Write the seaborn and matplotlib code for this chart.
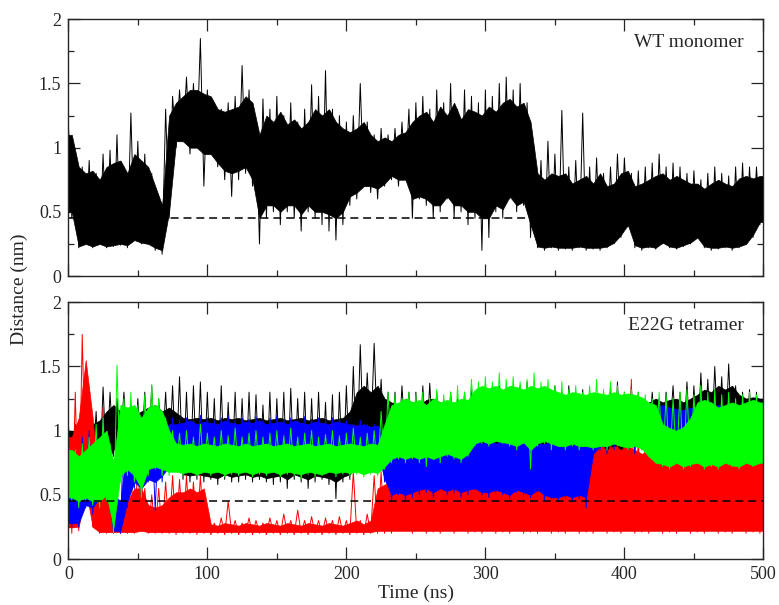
import matplotlib
matplotlib.use('Agg')
import matplotlib.pyplot as plt
from matplotlib.ticker import MultipleLocator, FormatStrFormatter
import seaborn as sns
import numpy as np
import pandas as pd

# Values per 5 ns bin (nm).
# *_core_*: edges of the dense band, *_peak_*: furthest excursions in the bin.

# WT monomer
wt_core_hi = [1.10, 0.85, 0.80, 0.82, 0.75, 0.85, 0.88, 0.90, 0.80, 0.95,
              0.90, 0.85, 0.70, 0.55, 1.25, 1.35, 1.40, 1.45, 1.45, 1.42,
              1.40, 1.30, 1.28, 1.30, 1.32, 1.40, 1.35, 1.10, 1.25, 1.20,
              1.28, 1.18, 1.22, 1.15, 1.20, 1.30, 1.25, 1.30, 1.20, 1.15,
              1.12, 1.15, 1.20, 1.10, 1.05, 1.08, 1.05, 1.10, 1.12, 1.20,
              1.25, 1.28, 1.20, 1.32, 1.25, 1.35, 1.22, 1.30, 1.28, 1.25,
              1.32, 1.28, 1.35, 1.38, 1.32, 1.35, 1.20, 0.80, 0.75, 0.80,
              0.78, 0.80, 0.72, 0.75, 0.78, 0.72, 0.80, 0.70, 0.72, 0.80,
              0.82, 0.70, 0.72, 0.75, 0.78, 0.80, 0.75, 0.78, 0.75, 0.72,
              0.72, 0.68, 0.72, 0.75, 0.72, 0.70, 0.76, 0.78, 0.76, 0.78]
wt_core_lo = [0.50, 0.23, 0.25, 0.23, 0.25, 0.23, 0.24, 0.25, 0.24, 0.28,
              0.26, 0.25, 0.22, 0.20, 0.50, 1.05, 1.05, 1.00, 1.00, 0.95,
              0.95, 0.88, 0.82, 0.80, 0.82, 0.85, 0.75, 0.45, 0.55, 0.55,
              0.50, 0.55, 0.55, 0.48, 0.55, 0.50, 0.50, 0.48, 0.45, 0.50,
              0.62, 0.65, 0.70, 0.70, 0.68, 0.72, 0.78, 0.75, 0.75, 0.60,
              0.62, 0.60, 0.55, 0.55, 0.62, 0.55, 0.55, 0.50, 0.50, 0.45,
              0.45, 0.55, 0.52, 0.62, 0.55, 0.58, 0.40, 0.23, 0.22, 0.23,
              0.22, 0.22, 0.22, 0.23, 0.22, 0.22, 0.22, 0.23, 0.26, 0.32,
              0.40, 0.24, 0.22, 0.23, 0.22, 0.26, 0.23, 0.22, 0.24, 0.26,
              0.30, 0.23, 0.22, 0.22, 0.23, 0.22, 0.23, 0.25, 0.32, 0.42]
wt_peak_hi = [1.20, 0.95, 0.85, 0.90, 0.80, 0.95, 0.98, 1.10, 0.85, 1.27,
              1.05, 0.95, 0.80, 0.60, 1.30, 1.40, 1.45, 1.55, 1.50, 1.85,
              1.45, 1.35, 1.30, 1.35, 1.40, 1.64, 1.45, 1.20, 1.38, 1.30,
              1.40, 1.25, 1.35, 1.20, 1.30, 1.49, 1.40, 1.60, 1.30, 1.25,
              1.20, 1.25, 1.50, 1.20, 1.10, 1.15, 1.10, 1.15, 1.20, 1.30,
              1.35, 1.40, 1.30, 1.45, 1.35, 1.50, 1.30, 1.45, 1.40, 1.35,
              1.45, 1.40, 1.50, 1.55, 1.45, 1.50, 1.35, 1.00, 0.90, 1.05,
              0.95, 1.29, 0.85, 0.90, 1.27, 0.85, 0.92, 0.80, 0.85, 0.95,
              0.92, 0.80, 0.82, 0.85, 0.88, 0.95, 0.85, 0.88, 0.85, 0.80,
              0.82, 0.75, 0.80, 0.85, 0.80, 0.78, 0.85, 0.88, 0.85, 0.85]
wt_peak_lo = [0.45, 0.22, 0.25, 0.22, 0.25, 0.22, 0.23, 0.24, 0.22, 0.30,
              0.25, 0.25, 0.20, 0.17, 0.45, 1.00, 1.05, 0.95, 1.00, 0.70,
              0.95, 0.85, 0.75, 0.62, 0.75, 0.80, 0.70, 0.25, 0.45, 0.50,
              0.40, 0.50, 0.45, 0.35, 0.50, 0.45, 0.40, 0.35, 0.28, 0.40,
              0.55, 0.60, 0.70, 0.65, 0.60, 0.70, 0.75, 0.70, 0.75, 0.45,
              0.60, 0.55, 0.45, 0.50, 0.60, 0.45, 0.50, 0.40, 0.45, 0.20,
              0.30, 0.50, 0.45, 0.60, 0.50, 0.55, 0.30, 0.22, 0.20, 0.22,
              0.20, 0.21, 0.20, 0.22, 0.20, 0.21, 0.20, 0.22, 0.25, 0.30,
              0.38, 0.22, 0.20, 0.22, 0.21, 0.25, 0.22, 0.21, 0.23, 0.25,
              0.30, 0.22, 0.20, 0.21, 0.22, 0.20, 0.22, 0.25, 0.30, 0.40]

# E22G tetramer, chain 1 (black)
black_core_hi = [1.00, 0.98, 0.95, 1.05, 1.08, 1.15, 1.20, 1.15, 1.18, 1.12,
                 1.15, 1.18, 1.20, 1.15, 1.18, 1.14, 1.10, 1.09, 1.10, 1.09,
                 1.10, 1.08, 1.10, 1.09, 1.10, 1.08, 1.09, 1.10, 1.08, 1.09,
                 1.10, 1.08, 1.09, 1.10, 1.08, 1.09, 1.10, 1.08, 1.09, 1.10,
                 1.15, 1.30, 1.35, 1.30, 1.35, 1.25, 1.22, 1.20, 1.25, 1.22,
                 1.20, 1.24, 1.25, 1.22, 1.20, 1.22, 1.20, 1.23, 1.25, 1.22,
                 1.24, 1.20, 1.25, 1.22, 1.20, 1.24, 1.25, 1.22, 1.23, 1.20,
                 1.24, 1.22, 1.25, 1.22, 1.20, 1.18, 1.15, 1.15, 1.20, 1.25,
                 1.22, 1.24, 1.20, 1.22, 1.25, 1.22, 1.24, 1.25, 1.22, 1.25,
                 1.28, 1.32, 1.30, 1.35, 1.32, 1.35, 1.28, 1.25, 1.26, 1.25]
black_core_lo = [0.75, 0.75, 0.70, 0.72, 0.65, 0.75, 0.85, 0.92, 0.90, 0.85,
                 0.85, 0.80, 0.75, 0.82, 0.80, 0.75, 0.66, 0.65, 0.66, 0.65,
                 0.64, 0.63, 0.66, 0.64, 0.65, 0.66, 0.64, 0.65, 0.63, 0.64,
                 0.65, 0.62, 0.66, 0.64, 0.62, 0.65, 0.64, 0.63, 0.60, 0.64,
                 0.66, 0.72, 0.88, 0.92, 0.92, 0.88, 0.86, 0.85, 0.87, 0.85,
                 0.84, 0.86, 0.85, 0.86, 0.84, 0.85, 0.86, 0.84, 0.86, 0.85,
                 0.84, 0.86, 0.85, 0.86, 0.84, 0.85, 0.86, 0.84, 0.82, 0.84,
                 0.85, 0.84, 0.85, 0.82, 0.80, 0.75, 0.65, 0.55, 0.75, 0.85,
                 0.88, 0.90, 0.90, 0.92, 0.95, 0.95, 0.94, 0.92, 0.92, 0.90,
                 0.90, 0.92, 0.90, 0.92, 0.90, 0.92, 0.90, 0.92, 0.90, 0.92]
black_peak_hi = [1.05, 1.05, 1.00, 1.10, 1.15, 1.34, 1.30, 1.25, 1.30, 1.20,
                 1.25, 1.30, 1.35, 1.25, 1.30, 1.35, 1.42, 1.30, 1.35, 1.38,
                 1.30, 1.25, 1.35, 1.22, 1.30, 1.25, 1.30, 1.28, 1.20, 1.30,
                 1.25, 1.30, 1.33, 1.25, 1.30, 1.25, 1.30, 1.22, 1.28, 1.30,
                 1.35, 1.50, 1.67, 1.45, 1.68, 1.40, 1.30, 1.30, 1.35, 1.30,
                 1.30, 1.35, 1.37, 1.30, 1.25, 1.30, 1.25, 1.30, 1.35, 1.30,
                 1.35, 1.30, 1.35, 1.30, 1.28, 1.35, 1.38, 1.30, 1.32, 1.30,
                 1.35, 1.30, 1.35, 1.30, 1.32, 1.30, 1.25, 1.28, 1.35, 1.38,
                 1.30, 1.35, 1.30, 1.25, 1.30, 1.25, 1.30, 1.35, 1.30, 1.38,
                 1.35, 1.45, 1.40, 1.50, 1.42, 1.52, 1.35, 1.30, 1.32, 1.30]
black_peak_lo = [0.70, 0.75, 0.65, 0.70, 0.60, 0.70, 0.80, 0.90, 0.85, 0.80,
                 0.80, 0.75, 0.70, 0.80, 0.75, 0.70, 0.62, 0.60, 0.62, 0.60,
                 0.62, 0.58, 0.62, 0.60, 0.60, 0.62, 0.60, 0.62, 0.60, 0.58,
                 0.60, 0.55, 0.62, 0.60, 0.55, 0.60, 0.62, 0.58, 0.47, 0.60,
                 0.62, 0.70, 0.85, 0.90, 0.90, 0.85, 0.90, 0.85, 0.90, 0.85,
                 0.80, 0.85, 0.85, 0.85, 0.80, 0.85, 0.85, 0.80, 0.85, 0.80,
                 0.80, 0.85, 0.80, 0.85, 0.80, 0.85, 0.80, 0.85, 0.75, 0.80,
                 0.85, 0.80, 0.85, 0.80, 0.75, 0.70, 0.60, 0.52, 0.70, 0.80,
                 0.80, 0.85, 0.85, 0.90, 0.95, 0.95, 0.95, 0.90, 0.90, 0.85,
                 0.85, 0.90, 0.85, 0.90, 0.85, 0.90, 0.85, 0.90, 0.85, 0.90]

# chain 2 (red)
red_core_hi = [0.95, 1.10, 1.55, 1.10, 0.45, 0.55, 0.40, 0.38, 0.45, 0.55,
               0.55, 0.42, 0.40, 0.42, 0.48, 0.52, 0.52, 0.55, 0.52, 0.55,
               0.27, 0.26, 0.28, 0.27, 0.26, 0.28, 0.27, 0.26, 0.28, 0.27,
               0.26, 0.28, 0.27, 0.26, 0.28, 0.27, 0.26, 0.28, 0.27, 0.26,
               0.28, 0.30, 0.27, 0.30, 0.55, 0.58, 0.60, 0.65, 0.85, 0.88,
               0.80, 0.82, 0.80, 0.78, 0.82, 0.80, 0.78, 0.82, 0.85, 0.80,
               0.82, 0.78, 0.82, 0.80, 0.78, 0.82, 0.80, 0.78, 0.82, 0.80,
               0.78, 0.82, 0.80, 0.85, 0.88, 0.85, 0.88, 0.85, 0.88, 0.85,
               0.88, 0.85, 0.82, 0.84, 0.80, 0.76, 0.78, 0.76, 0.80, 0.76,
               0.78, 0.76, 0.80, 0.76, 0.78, 0.76, 0.80, 0.78, 0.76, 0.78]
red_core_lo = [0.25, 0.25, 0.55, 0.25, 0.21, 0.21, 0.21, 0.21, 0.21, 0.21,
               0.22, 0.21, 0.21, 0.21, 0.21, 0.21, 0.21, 0.21, 0.21, 0.21,
               0.21, 0.21, 0.21, 0.21, 0.21, 0.21, 0.21, 0.21, 0.21, 0.21,
               0.21, 0.21, 0.21, 0.21, 0.21, 0.21, 0.21, 0.21, 0.21, 0.21,
               0.21, 0.21, 0.21, 0.21, 0.22, 0.22, 0.22, 0.22, 0.22, 0.22,
               0.22, 0.22, 0.22, 0.22, 0.22, 0.22, 0.22, 0.22, 0.22, 0.22,
               0.22, 0.22, 0.22, 0.22, 0.22, 0.22, 0.22, 0.22, 0.22, 0.22,
               0.22, 0.22, 0.22, 0.22, 0.22, 0.22, 0.22, 0.22, 0.22, 0.22,
               0.22, 0.22, 0.22, 0.22, 0.22, 0.22, 0.22, 0.22, 0.22, 0.22,
               0.22, 0.22, 0.22, 0.22, 0.22, 0.22, 0.22, 0.22, 0.22, 0.22]
red_peak_hi = [1.05, 1.30, 1.75, 1.30, 0.55, 1.18, 0.50, 0.45, 0.60, 0.70,
               0.75, 0.55, 0.50, 0.55, 0.60, 0.65, 0.62, 0.65, 0.60, 0.65,
               0.30, 0.28, 0.32, 0.45, 0.30, 0.28, 0.32, 0.30, 0.28, 0.32,
               0.30, 0.35, 0.30, 0.38, 0.30, 0.33, 0.30, 0.32, 0.30, 0.33,
               0.30, 0.68, 0.30, 0.35, 0.65, 0.68, 0.70, 0.90, 1.20, 1.25,
               1.00, 0.95, 1.00, 0.90, 0.95, 1.00, 0.95, 1.05, 1.10, 1.00,
               1.05, 0.95, 1.00, 0.95, 1.05, 0.95, 1.00, 0.95, 0.90, 0.95,
               0.90, 0.95, 0.90, 1.00, 1.05, 0.95, 1.00, 0.95, 1.00, 0.95,
               1.00, 1.40, 0.95, 1.00, 0.90, 0.85, 0.88, 0.85, 0.90, 0.85,
               0.88, 0.85, 0.90, 0.85, 0.88, 0.85, 0.90, 0.88, 0.85, 0.90]
red_peak_lo = [0.20, 0.22, 0.60, 0.25, 0.20, 0.20, 0.20, 0.20, 0.20, 0.20,
               0.22, 0.20, 0.20, 0.20, 0.20, 0.19, 0.20, 0.20, 0.19, 0.20,
               0.19, 0.20, 0.19, 0.20, 0.19, 0.20, 0.19, 0.20, 0.19, 0.20,
               0.19, 0.20, 0.19, 0.20, 0.19, 0.20, 0.19, 0.20, 0.19, 0.20,
               0.19, 0.20, 0.19, 0.20, 0.20, 0.20, 0.20, 0.22, 0.22, 0.20,
               0.22, 0.20, 0.21, 0.20, 0.22, 0.20, 0.22, 0.20, 0.21, 0.20,
               0.22, 0.20, 0.21, 0.20, 0.22, 0.20, 0.21, 0.20, 0.22, 0.20,
               0.21, 0.20, 0.22, 0.20, 0.21, 0.20, 0.22, 0.20, 0.21, 0.20,
               0.22, 0.20, 0.21, 0.20, 0.22, 0.20, 0.21, 0.20, 0.22, 0.20,
               0.21, 0.20, 0.22, 0.20, 0.21, 0.20, 0.22, 0.20, 0.21, 0.20]

# chain 3 (blue)
blue_core_hi = [0.50, 0.55, 0.85, 0.90, 0.90, 1.00, 0.50, 0.45, 0.95, 1.05,
                1.00, 0.95, 1.00, 1.00, 1.05, 1.05, 1.06, 1.08, 1.05, 1.07,
                1.06, 1.05, 1.08, 1.06, 1.05, 1.07, 1.06, 1.08, 1.05, 1.06,
                1.07, 1.05, 1.08, 1.06, 1.05, 1.07, 1.06, 1.05, 1.07, 1.06,
                1.05, 1.04, 1.05, 1.03, 1.04, 0.98, 0.92, 0.93, 0.90, 0.92,
                0.90, 0.88, 0.92, 0.90, 0.88, 0.90, 0.92, 0.90, 0.93, 0.90,
                0.92, 0.90, 0.91, 0.93, 0.90, 0.92, 0.90, 0.89, 0.90, 0.90,
                0.90, 0.89, 0.90, 0.90, 0.92, 1.05, 1.15, 1.18, 1.16, 1.18,
                1.15, 1.18, 1.16, 1.18, 1.17, 1.20, 1.18, 1.17, 1.16, 1.18,
                1.17, 1.20, 1.18, 1.20, 1.17, 1.18, 1.16, 1.18, 1.17, 1.18]
blue_core_lo = [0.28, 0.28, 0.42, 0.40, 0.48, 0.55, 0.22, 0.22, 0.45, 0.60,
                0.55, 0.62, 0.60, 0.65, 0.72, 0.82, 0.85, 0.84, 0.86, 0.84,
                0.86, 0.85, 0.86, 0.84, 0.86, 0.85, 0.87, 0.85, 0.86, 0.84,
                0.86, 0.85, 0.86, 0.84, 0.86, 0.85, 0.84, 0.86, 0.84, 0.85,
                0.84, 0.85, 0.84, 0.82, 0.84, 0.62, 0.50, 0.52, 0.50, 0.52,
                0.54, 0.55, 0.52, 0.55, 0.53, 0.55, 0.52, 0.54, 0.55, 0.52,
                0.52, 0.54, 0.52, 0.50, 0.54, 0.52, 0.50, 0.54, 0.50, 0.48,
                0.48, 0.50, 0.48, 0.50, 0.48, 0.82, 0.88, 0.88, 0.90, 0.92,
                0.90, 0.88, 0.92, 0.90, 0.92, 0.95, 0.98, 0.96, 0.95, 0.92,
                0.90, 0.92, 0.90, 0.92, 0.90, 0.92, 0.90, 0.92, 0.92, 0.90]
blue_peak_hi = [0.55, 0.60, 0.95, 1.00, 0.95, 1.10, 0.55, 0.50, 1.10, 1.20,
                1.05, 1.00, 1.05, 1.05, 1.10, 1.10, 1.08, 1.10, 1.08, 1.12,
                1.10, 1.08, 1.10, 1.12, 1.08, 1.10, 1.09, 1.11, 1.08, 1.10,
                1.12, 1.09, 1.10, 1.08, 1.11, 1.09, 1.10, 1.08, 1.10, 1.09,
                1.08, 1.05, 1.08, 1.05, 1.05, 1.00, 0.95, 0.98, 0.90, 0.95,
                0.92, 0.88, 0.95, 0.90, 0.85, 0.92, 0.95, 0.90, 0.98, 0.92,
                0.95, 0.90, 0.93, 0.96, 0.90, 0.95, 0.92, 0.90, 0.93, 0.95,
                0.92, 0.90, 0.93, 0.95, 0.95, 1.10, 1.15, 1.20, 1.18, 1.22,
                1.15, 1.20, 1.18, 1.22, 1.20, 1.25, 1.22, 1.20, 1.18, 1.22,
                1.20, 1.25, 1.22, 1.25, 1.20, 1.22, 1.18, 1.22, 1.20, 1.22]
blue_peak_lo = [0.25, 0.25, 0.40, 0.35, 0.45, 0.50, 0.20, 0.20, 0.40, 0.55,
                0.50, 0.60, 0.38, 0.60, 0.70, 0.80, 0.85, 0.82, 0.85, 0.82,
                0.85, 0.84, 0.86, 0.83, 0.85, 0.84, 0.86, 0.83, 0.85, 0.84,
                0.86, 0.83, 0.85, 0.84, 0.86, 0.83, 0.82, 0.85, 0.80, 0.84,
                0.80, 0.82, 0.80, 0.78, 0.80, 0.60, 0.45, 0.50, 0.45, 0.48,
                0.50, 0.52, 0.48, 0.55, 0.50, 0.52, 0.48, 0.50, 0.55, 0.50,
                0.48, 0.52, 0.50, 0.47, 0.52, 0.50, 0.48, 0.52, 0.45, 0.47,
                0.45, 0.48, 0.45, 0.47, 0.40, 0.80, 0.85, 0.82, 0.85, 0.88,
                0.85, 0.82, 0.88, 0.85, 0.90, 0.95, 1.00, 0.98, 0.95, 0.90,
                0.85, 0.88, 0.85, 0.90, 0.85, 0.88, 0.85, 0.90, 0.88, 0.85]

# chain 4 (green)
green_core_hi = [0.85, 0.80, 0.85, 0.90, 0.95, 1.00, 0.75, 1.20, 1.18, 1.20,
                 1.10, 1.18, 1.20, 1.15, 1.00, 0.90, 0.89, 0.90, 0.88, 0.90,
                 0.89, 0.88, 0.90, 0.89, 0.88, 0.90, 0.88, 0.89, 0.90, 0.88,
                 0.89, 0.90, 0.88, 0.89, 0.90, 0.88, 0.89, 0.90, 0.88, 0.89,
                 0.90, 0.89, 0.88, 0.90, 0.89, 1.05, 1.20, 1.22, 1.25, 1.22,
                 1.24, 1.20, 1.25, 1.22, 1.24, 1.22, 1.25, 1.24, 1.32, 1.35,
                 1.33, 1.35, 1.32, 1.35, 1.34, 1.32, 1.35, 1.33, 1.35, 1.32,
                 1.30, 1.28, 1.30, 1.29, 1.28, 1.30, 1.29, 1.28, 1.30, 1.28,
                 1.29, 1.28, 1.26, 1.22, 1.20, 1.05, 1.02, 1.00, 1.03, 1.10,
                 1.22, 1.24, 1.22, 1.18, 1.20, 1.22, 1.20, 1.22, 1.24, 1.22]
green_core_lo = [0.48, 0.45, 0.48, 0.45, 0.45, 0.50, 0.25, 0.65, 0.70, 0.65,
                 0.55, 0.70, 0.72, 0.70, 0.68, 0.68, 0.67, 0.68, 0.66, 0.68,
                 0.67, 0.68, 0.66, 0.68, 0.67, 0.68, 0.66, 0.68, 0.67, 0.68,
                 0.66, 0.68, 0.67, 0.66, 0.68, 0.67, 0.66, 0.68, 0.67, 0.68,
                 0.67, 0.68, 0.66, 0.68, 0.67, 0.72, 0.78, 0.80, 0.78, 0.80,
                 0.78, 0.80, 0.78, 0.80, 0.82, 0.80, 0.78, 0.82, 0.90, 0.92,
                 0.90, 0.92, 0.91, 0.90, 0.88, 0.91, 0.85, 0.90, 0.92, 0.90,
                 0.88, 0.88, 0.90, 0.88, 0.88, 0.87, 0.88, 0.88, 0.90, 0.88,
                 0.87, 0.88, 0.86, 0.80, 0.75, 0.74, 0.72, 0.75, 0.72, 0.74,
                 0.75, 0.72, 0.74, 0.72, 0.75, 0.73, 0.72, 0.75, 0.73, 0.75]
green_peak_hi = [0.90, 0.85, 0.90, 0.95, 1.05, 1.10, 0.90, 1.51, 1.25, 1.30,
                 1.20, 1.28, 1.36, 1.25, 1.10, 1.00, 0.98, 1.00, 0.95, 1.05,
                 0.98, 0.95, 1.00, 0.96, 1.02, 0.95, 0.98, 1.00, 0.95, 0.98,
                 1.00, 0.96, 1.02, 0.95, 0.98, 1.00, 0.95, 0.97, 1.00, 0.96,
                 0.98, 1.02, 0.95, 0.98, 1.00, 1.15, 1.30, 1.28, 1.25, 1.30,
                 1.28, 1.30, 1.25, 1.32, 1.28, 1.30, 1.35, 1.30, 1.40, 1.38,
                 1.42, 1.38, 1.45, 1.40, 1.42, 1.38, 1.40, 1.45, 1.38, 1.40,
                 1.35, 1.38, 1.32, 1.35, 1.30, 1.35, 1.40, 1.32, 1.38, 1.35,
                 1.30, 1.32, 1.30, 1.28, 1.25, 1.30, 1.28, 1.25, 1.30, 1.32,
                 1.28, 1.35, 1.30, 1.32, 1.28, 1.30, 1.25, 1.28, 1.30, 1.28]
green_peak_lo = [0.45, 0.40, 0.45, 0.42, 0.40, 0.45, 0.20, 0.60, 0.65, 0.60,
                 0.48, 0.65, 0.70, 0.65, 0.65, 0.68, 0.65, 0.68, 0.65, 0.70,
                 0.65, 0.68, 0.64, 0.66, 0.65, 0.68, 0.64, 0.66, 0.65, 0.68,
                 0.64, 0.66, 0.65, 0.62, 0.66, 0.64, 0.65, 0.68, 0.64, 0.66,
                 0.65, 0.66, 0.64, 0.66, 0.65, 0.70, 0.75, 0.78, 0.75, 0.78,
                 0.75, 0.72, 0.78, 0.75, 0.80, 0.78, 0.75, 0.80, 0.88, 0.90,
                 0.88, 0.92, 0.90, 0.88, 0.85, 0.90, 0.70, 0.88, 0.90, 0.85,
                 0.88, 0.85, 0.88, 0.85, 0.88, 0.85, 0.88, 0.85, 0.90, 0.88,
                 0.85, 0.88, 0.85, 0.80, 0.75, 0.72, 0.70, 0.75, 0.70, 0.72,
                 0.75, 0.70, 0.72, 0.70, 0.75, 0.72, 0.70, 0.75, 0.72, 0.75]

bin_ns = 5.0
cutoff = 0.45


def draw_trace(ax, core_hi, core_lo, peak_hi, peak_lo, color, z):
    # dense band
    t = np.arange(len(core_hi)) * bin_ns + bin_ns / 2
    t_full = np.concatenate([[0], t, [500]])
    hi_full = np.concatenate([core_hi[:1], core_hi, core_hi[-1:]])
    lo_full = np.concatenate([core_lo[:1], core_lo, core_lo[-1:]])
    ax.fill_between(t_full, lo_full, hi_full, color=color, lw=0.5, zorder=z)
    # excursions: top of each bin, then its bottom half a bin later
    vals = np.column_stack([peak_hi, peak_lo]).ravel()
    df = pd.DataFrame({"time": np.arange(len(vals)) * bin_ns / 2, "dist": vals})
    sns.lineplot(data=df, x="time", y="dist", color=color, lw=0.7,
                 estimator=None, sort=False, ax=ax, zorder=z)


sns.set_style("ticks")
plt.rcParams["font.family"] = ["Liberation Serif", "DejaVu Serif"]
plt.rcParams["axes.linewidth"] = 1.0

fig = plt.figure(figsize=(7.79, 6.05), dpi=100)
ax1 = fig.add_axes([0.0877, 0.5438, 0.8923, 0.4243])
ax2 = fig.add_axes([0.0877, 0.0760, 0.8923, 0.4243])

draw_trace(ax1, wt_core_hi, wt_core_lo, wt_peak_hi, wt_peak_lo, "#000000", 2)
tetramer = [
    (black_core_hi, black_core_lo, black_peak_hi, black_peak_lo, "#000000"),
    (red_core_hi, red_core_lo, red_peak_hi, red_peak_lo, "#ff0000"),
    (blue_core_hi, blue_core_lo, blue_peak_hi, blue_peak_lo, "#0000ff"),
    (green_core_hi, green_core_lo, green_peak_hi, green_peak_lo, "#00ff00"),
]
for k, (chi, clo, phi, plo, col) in enumerate(tetramer):
    draw_trace(ax2, chi, clo, phi, plo, col, 2 + k)

for ax, label in [(ax1, "WT monomer"), (ax2, "E22G tetramer")]:
    ax.axhline(cutoff, color="black", lw=1.1, ls=(0, (5.2, 3.2)), zorder=10)
    ax.set_xlim(0, 500)
    ax.set_ylim(0, 2)
    ax.xaxis.set_major_locator(MultipleLocator(100))
    ax.xaxis.set_minor_locator(MultipleLocator(50))
    ax.yaxis.set_major_locator(MultipleLocator(0.5))
    ax.yaxis.set_minor_locator(MultipleLocator(0.25))
    ax.yaxis.set_major_formatter(FormatStrFormatter("%g"))
    ax.tick_params(which="both", direction="in", top=True, right=True,
                   width=0.9, labelsize=13, pad=5)
    ax.tick_params(which="major", length=8.5)
    ax.tick_params(which="minor", length=4.3)
    ax.set_xlabel("")
    ax.set_ylabel("")
    ax.text(0.972, 0.91, label, transform=ax.transAxes, ha="right",
            va="center", fontsize=14, zorder=12)
    for s in ax.spines.values():
        s.set_zorder(11)

ax1.tick_params(labelbottom=False)
ax2.set_xlabel("Time (ns)", fontsize=14, labelpad=1)
fig.text(0.025, 0.522, "Distance (nm)", rotation=90, ha="center",
         va="center", fontsize=14)

fig.savefig("out.png", dpi=100)
plt.close(fig)
